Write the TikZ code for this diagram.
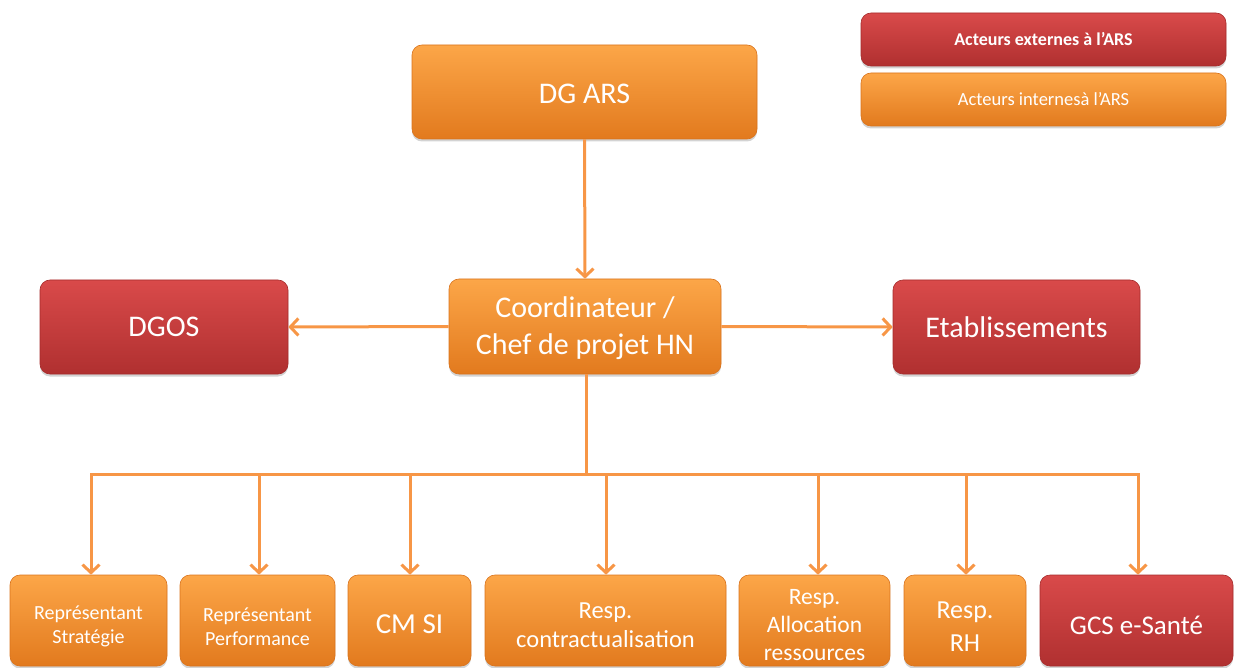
\documentclass[tikz,border=0pt]{standalone}
\usepackage{fontspec}
\setmainfont{Carlito}
\usetikzlibrary{arrows.meta,shadows}
\definecolor{oTop}{HTML}{FCA648}
\definecolor{oMid}{HTML}{F7952F}
\definecolor{oBot}{HTML}{E27A1E}
\definecolor{oEdge}{HTML}{D9731C}
\definecolor{rTop}{HTML}{D94A4A}
\definecolor{rMid}{HTML}{CB3E3E}
\definecolor{rBot}{HTML}{B03030}
\definecolor{rEdge}{HTML}{A52B2B}
\definecolor{connc}{HTML}{F79646}
\tikzset{
  box/.style={rounded corners=10pt, text=white, align=center, inner sep=0pt,
    drop shadow={opacity=0.35, shadow xshift=0pt, shadow yshift=-2.5pt}},
  intern/.style={box, top color=oTop, middle color=oMid, bottom color=oBot, draw=oEdge, line width=0.6pt},
  extern/.style={box, top color=rTop, middle color=rMid, bottom color=rBot, draw=rEdge, line width=0.6pt},
  bottombox/.style={minimum height=91pt},
  tlab/.style={text=white, align=center, inner sep=0pt},
  conn/.style={draw=connc, line width=3pt},
  arr/.style={conn, -{Straight Barb[length=8pt,width=17pt]}},
  big/.style={font=\fontsize{30}{37}\selectfont},
}
\begin{document}
\begin{tikzpicture}[x=1pt,y=-1pt]
\useasboundingbox (0,0) rectangle (1234,668);
% legend
\node[extern, minimum width=365pt, minimum height=53pt, font=\fontsize{18}{22}\selectfont\bfseries] (legext) at (1043.5,39.5) {Acteurs externes à l’ARS};
\node[intern, minimum width=365pt, minimum height=53pt, font=\fontsize{18.5}{22}\selectfont] (legint) at (1043.5,99.5) {Acteurs internesà l’ARS};
% main nodes
\node[intern, minimum width=345pt, minimum height=94pt,
  label={[tlab, big, yshift=-2pt]center:DG ARS}] (dg) at (584.5,92) {};
\node[intern, minimum width=272pt, minimum height=95pt,
  label={[tlab, big, yshift=-2pt]center:{Coordinateur /\\Chef de projet HN}}] (coord) at (585,326.5) {};
\node[extern, big, minimum width=248pt, minimum height=94pt] (dgos) at (164,327) {DGOS};
\node[extern, big, minimum width=247pt, minimum height=94pt] (etab) at (1016.5,327) {Etablissements};
% bottom nodes
\node[intern, bottombox, minimum width=157pt,
  label={[tlab, font=\fontsize{20}{24}\selectfont, yshift=-6pt]center:{Représentant\\Stratégie}}] (b1) at (88.5,620.5) {};
\node[intern, bottombox, minimum width=155pt,
  label={[tlab, font=\fontsize{20}{24}\selectfont, yshift=-6pt]center:{Représentant\\Performance}}] (b2) at (257.5,620.5) {};
\node[intern, bottombox, minimum width=123pt,
  label={[tlab, font=\fontsize{29}{34}\selectfont, yshift=-4pt]center:CM SI}] (b3) at (409.5,620.5) {};
\node[intern, bottombox, minimum width=241pt,
  label={[tlab, font=\fontsize{24.5}{29}\selectfont, yshift=-5pt]center:{Resp.\\contractualisation}}] (b4) at (605.5,620.5) {};
\node[intern, bottombox, minimum width=151pt,
  label={[tlab, font=\fontsize{23.5}{28}\selectfont, yshift=-4.5pt]center:{Resp.\\Allocation\\ressources}}] (b5) at (814.5,620.5) {};
\node[intern, bottombox, minimum width=122pt,
  label={[tlab, font=\fontsize{26}{33}\selectfont, yshift=-6pt]center:{Resp.\\RH}}] (b6) at (965,620.5) {};
\node[extern, bottombox, minimum width=193pt,
  label={[tlab, font=\fontsize{27}{32}\selectfont, yshift=-5pt]center:GCS e-Santé}] (b7) at (1136.5,620.5) {};
% connectors
\draw[arr] (dg.south) -- (coord.north);
\draw[arr] (coord.west) -- (dgos.east);
\draw[arr] (coord.east) -- (etab.west);
\coordinate (bus) at (586,474);
\draw[conn] ([xshift=1pt]coord.south) -- (bus);
\foreach \n/\dx in {b1/2.5,b2/1.5,b3/0.5,b4/0.5,b5/3.5,b6/1,b7/1.5}{
  \draw[arr] (bus) -| ([xshift=\dx pt]\n.north);
}
\end{tikzpicture}
\end{document}
